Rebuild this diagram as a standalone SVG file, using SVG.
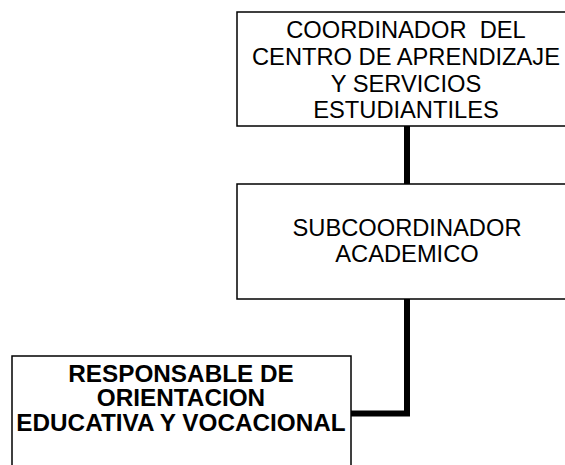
<svg xmlns="http://www.w3.org/2000/svg" width="565" height="465" viewBox="0 0 565 465">
<style>
.box{fill:#fff;stroke:#000;stroke-width:1.5}
.t{font-family:"Liberation Sans",Arial,sans-serif;font-size:23.7px;text-anchor:middle;fill:#000}
.b{font-weight:bold;font-size:24.3px}
.c{fill:none;stroke:#000;stroke-width:6;stroke-linejoin:miter}
</style>
<rect width="565" height="465" fill="#fff"/>
<g id="connectors">
<path class="c" d="M407,126 V184"/>
<path class="c" d="M407,299 V413.5 H351"/>
</g>
<g id="n1">
<rect class="box" x="237" y="12" width="340" height="114"/>
<text class="t" x="406" y="37.5" xml:space="preserve">COORDINADOR  DEL</text>
<text class="t" x="406" y="64.5">CENTRO DE APRENDIZAJE</text>
<text class="t" x="406" y="91.5">Y SERVICIOS</text>
<text class="t" x="406" y="118">ESTUDIANTILES</text>
</g>
<g id="n2">
<rect class="box" x="237" y="184" width="340" height="115"/>
<text class="t" x="407" y="235.5">SUBCOORDINADOR</text>
<text class="t" x="407" y="262">ACADEMICO</text>
</g>
<g id="n3">
<rect class="box" x="12" y="356" width="339" height="120"/>
<text class="t b" x="181" y="381.5">RESPONSABLE DE</text>
<text class="t b" x="181" y="406">ORIENTACION</text>
<text class="t b" x="181" y="430.5">EDUCATIVA Y VOCACIONAL</text>
</g>
</svg>
